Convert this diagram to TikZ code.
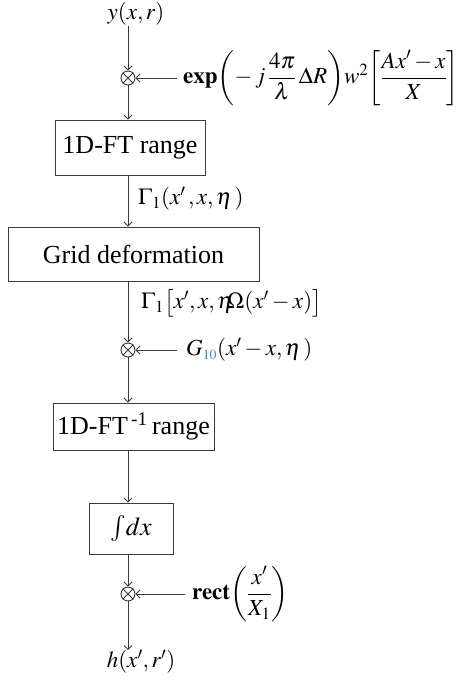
\documentclass[tikz,border=0pt]{standalone}
\usepackage{amsmath}
\usepackage{mathptmx}
\usepackage{fontspec}
\setmainfont{Liberation Serif}
\usetikzlibrary{arrows.meta}
\definecolor{ln}{HTML}{3A3A3A}
\definecolor{subblue}{HTML}{3D86C6}
\tikzset{
  box/.style={draw=ln, line width=0.9pt, inner sep=0pt, font=\fontsize{26}{30}\selectfont},
  mult/.style={circle, draw=ln, line width=0.9pt, minimum size=14pt, inner sep=0pt},
  flow/.style={draw=ln, line width=0.9pt, -{Straight Barb[length=4pt,width=8pt]}},
  plain/.style={draw=ln, line width=0.9pt},
  lab/.style={inner sep=0pt, font=\fontsize{23}{27}\selectfont},
}
\begin{document}
\begin{tikzpicture}[x=1pt,y=-1pt]
\useasboundingbox (0,0) rectangle (460,680);
% inputs / outputs
\node[lab] (in) at (136,14) {$y(x,r)$};
\node[lab] (out) at (141,662) {$h(x',r')$};
% multipliers
\node[mult] (m1) at (128,78) {};
\draw[plain] (m1.north west) -- (m1.south east) (m1.north east) -- (m1.south west);
\node[mult] (m2) at (128,350) {};
\draw[plain] (m2.north west) -- (m2.south east) (m2.north east) -- (m2.south west);
\node[mult] (m3) at (128,594) {};
\draw[plain] (m3.north west) -- (m3.south east) (m3.north east) -- (m3.south west);
% boxes
\node[box, minimum width=150pt, minimum height=55pt] (ft) at (130,147.5) {1D-FT range};
\node[box, minimum width=251pt, minimum height=54pt] (grid) at (133.5,254) {Grid deformation};
\node[box, minimum width=161pt, minimum height=47pt] (ift) at (133.5,426.5) {1D-FT\textsuperscript{\,-1}\,range};
\node[box, minimum width=84pt, minimum height=51pt] (int) at (131,528.5) {$\int\!dx$};
% side inputs
\node[lab, anchor=west] (e1) at (183,78) {$\mathbf{exp}\!\left(-\,j\,\dfrac{4\pi}{\lambda}\,\Delta R\right)\!w^{2}\!\left[\dfrac{Ax'-x}{X}\right]$};
\node[lab, anchor=west] (e2) at (186,350) {$G_{\textcolor{subblue}{\scriptscriptstyle 10}}(x'-x,\eta\mkern2mu)$};
\node[lab, anchor=west] (e3) at (192,594) {$\mathbf{rect}\!\left(\dfrac{x'}{X_{1}}\right)$};
\coordinate (s1) at (177,78);
\coordinate (s2) at (177,350);
\coordinate (s3) at (185,594);
% edge labels
\node[lab, anchor=west] (l1) at (138,199) {$\Gamma_{1}(x'\,,x,\eta\mkern2mu)$};
\node[lab, anchor=west] (l2) at (141,303) {$\Gamma_{1}\big[x',x,\eta\mkern-5mu\Omega(x'-x)\big]$};
% connectors
\draw[flow] (in.south -| m1) -- (m1.north);
\draw[flow] (s1) -- (m1.east);
\draw[flow] (m1.south) -- (m1.south |- ft.north);
\draw[flow] (m1 |- ft.south) -- (m1 |- grid.north);
\draw[flow] (m1 |- grid.south) -- (m2.north);
\draw[flow] (s2) -- (m2.east);
\draw[flow] (m2.south) -- (m2 |- ift.north);
\draw[flow] (m2 |- ift.south) -- (m2 |- int.north);
\draw[flow] (m2 |- int.south) -- (m3.north);
\draw[flow] (s3) -- (m3.east);
\draw[flow] (m3.south) -- (m3 |- out.north);
\end{tikzpicture}
\end{document}
